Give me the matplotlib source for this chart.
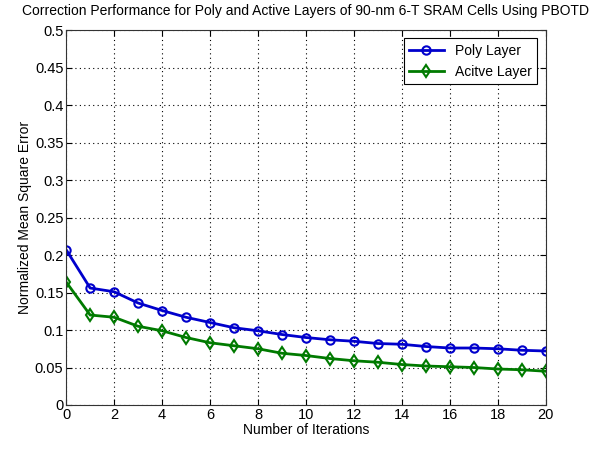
import matplotlib.pyplot as plt
import numpy as np

plt.rcParams['font.family'] = ['Liberation Sans', 'DejaVu Sans']

iterations = list(range(21))
poly = [0.207, 0.156, 0.151, 0.136, 0.126, 0.117, 0.110, 0.103, 0.099, 0.094, 0.090,
        0.087, 0.085, 0.082, 0.081, 0.078, 0.076, 0.076, 0.075, 0.073, 0.072]
active = [0.164, 0.120, 0.117, 0.105, 0.099, 0.090, 0.083, 0.079, 0.075, 0.069, 0.066,
          0.062, 0.059, 0.057, 0.054, 0.052, 0.051, 0.050, 0.048, 0.047, 0.045]
yticks = [0, 0.05, 0.1, 0.15, 0.2, 0.25, 0.3, 0.35, 0.4, 0.45, 0.5]
ytick_labels = ['0', '0.05', '0.1', '0.15', '0.2', '0.25', '0.3', '0.35', '0.4', '0.45', '0.5']

fig = plt.figure(figsize=(6.07, 4.49), dpi=100)
ax = fig.add_axes([0.109, 0.098, 0.790, 0.835])

ax.plot(iterations, poly, color='#0000cc', marker='o', markersize=6, markerfacecolor='none',
        markeredgewidth=1.5, linewidth=2, label='Poly Layer')
ax.plot(iterations, active, color='#007a00', marker='d', markersize=6, markerfacecolor='none',
        markeredgewidth=1.5, linewidth=2, label='Acitve Layer')

ax.set_xlim(0, 20)
ax.set_ylim(0, 0.5)
ax.set_xticks(range(0, 21, 2))
ax.set_yticks(yticks)
ax.set_yticklabels(ytick_labels)
ax.tick_params(direction='in', top=True, right=True, labelsize=10.5, length=4, pad=2)
ax.grid(True, linestyle=(0, (1, 3)), color='black', linewidth=0.8)
for s in ax.spines.values():
    s.set_color('#333333')

ax.set_xlabel('Number of Iterations', fontsize=10, labelpad=1)
ax.set_ylabel('Normalized Mean Square Error', fontsize=10, labelpad=2)
ax.set_title('Correction Performance for Poly and Active Layers of 90-nm 6-T SRAM Cells Using PBOTD',
             fontsize=10, pad=11)

leg = ax.legend(loc='upper right', fontsize=10, fancybox=False, framealpha=1,
                edgecolor='black', borderaxespad=0.6, handlelength=2.5)
leg.get_frame().set_linewidth(0.8)

plt.savefig('out.png', dpi=100)
